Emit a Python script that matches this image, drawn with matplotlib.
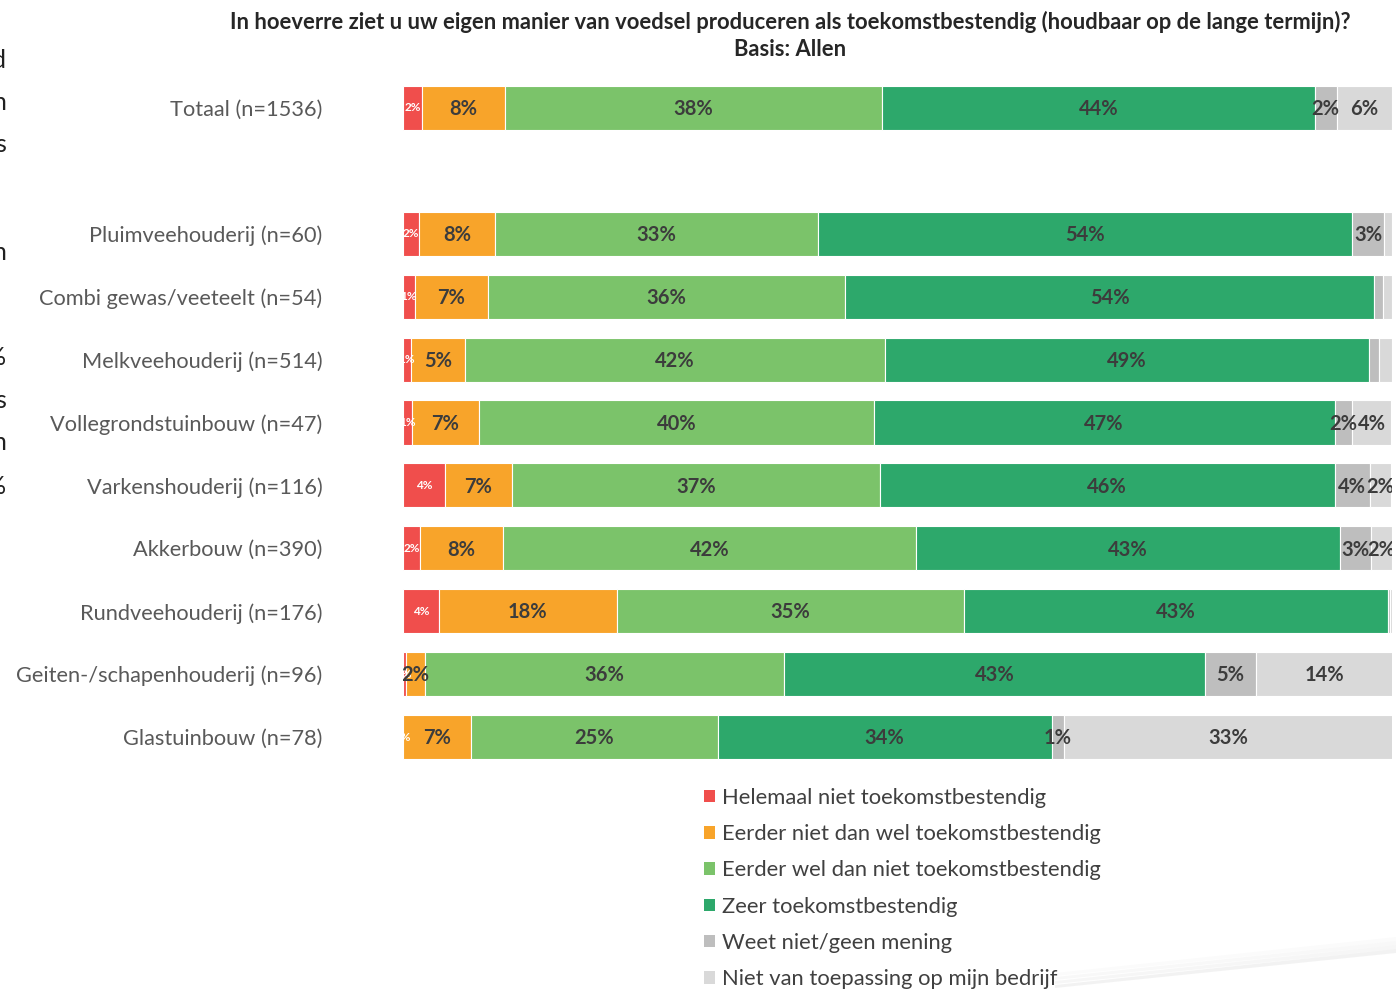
import matplotlib.pyplot as plt
from matplotlib.patches import Patch, Polygon

plt.rcParams['font.family'] = ['Lato', 'DejaVu Sans']

categories = ["Totaal (n=1536)", "Pluimveehouderij (n=60)", "Combi gewas/veeteelt (n=54)",
              "Melkveehouderij (n=514)", "Vollegrondstuinbouw (n=47)", "Varkenshouderij (n=116)",
              "Akkerbouw (n=390)", "Rundveehouderij (n=176)", "Geiten-/schapenhouderij (n=96)",
              "Glastuinbouw (n=78)"]

series = ["Helemaal niet toekomstbestendig", "Eerder niet dan wel toekomstbestendig",
          "Eerder wel dan niet toekomstbestendig", "Zeer toekomstbestendig",
          "Weet niet/geen mening", "Niet van toepassing op mijn bedrijf"]

helemaal_niet = [1.9, 1.6, 1.2, 0.8, 0.9, 4.2, 1.7, 3.6, 0.3, 0.0]
eerder_niet = [8.4, 7.7, 7.4, 5.5, 6.8, 6.8, 8.4, 18.0, 1.9, 6.9]
eerder_wel = [38.1, 32.7, 36.1, 42.4, 39.9, 37.2, 41.8, 35.1, 36.3, 24.9]
zeer = [43.8, 54.0, 53.5, 49.0, 46.6, 46.0, 42.8, 42.9, 42.6, 33.8]
weet_niet = [2.2, 3.2, 0.9, 1.0, 1.8, 3.6, 3.2, 0.2, 5.1, 1.2]
niet_van_toepassing = [5.6, 0.8, 0.9, 1.3, 3.9, 2.1, 2.1, 0.2, 13.9, 33.3]

# labels as printed in the bars ("" = not shown)
helemaal_niet_lbl = ["2%", "2%", "1%", "1%", "1%", "4%", "2%", "4%", "0%", "0%"]
eerder_niet_lbl = ["8%", "8%", "7%", "5%", "7%", "7%", "8%", "18%", "2%", "7%"]
eerder_wel_lbl = ["38%", "33%", "36%", "42%", "40%", "37%", "42%", "35%", "36%", "25%"]
zeer_lbl = ["44%", "54%", "54%", "49%", "47%", "46%", "43%", "43%", "43%", "34%"]
weet_niet_lbl = ["2%", "3%", "", "", "2%", "4%", "3%", "", "5%", "1%"]
niet_van_toepassing_lbl = ["6%", "", "", "", "4%", "2%", "2%", "", "14%", "33%"]

colors = ["#F04E4C", "#F8A42A", "#7BC36A", "#2DA86B", "#BEBEBE", "#D9D9D9"]

values = [helemaal_niet, eerder_niet, eerder_wel, zeer, weet_niet, niet_van_toepassing]
labels = [helemaal_niet_lbl, eerder_niet_lbl, eerder_wel_lbl, zeer_lbl, weet_niet_lbl,
          niet_van_toepassing_lbl]

fig = plt.figure(figsize=(13.96, 9.91), dpi=100)
W, H = 1396, 991
ax = fig.add_axes([403 / W, 1 - 768.5 / H, 989 / W, 692 / H])

# Totaal sits on top, one empty slot below it
ypos = [0] + list(range(2, 2 + len(categories) - 1))

left = [0.0] * len(categories)
handles = []
for i, (vals, lbls) in enumerate(zip(values, labels)):
    ax.barh(ypos, vals, left=left, height=0.7, color=colors[i],
            edgecolor="white", linewidth=0.8)
    handles.append(Patch(facecolor=colors[i], edgecolor="none", label=series[i]))
    for j, (v, l) in enumerate(zip(vals, lbls)):
        if l:
            if i == 0:
                ax.text(left[j] + v / 2, ypos[j], l, ha="center", va="center",
                        fontsize=8.5, color="white", fontweight="bold", clip_on=True)
            else:
                ax.text(left[j] + v / 2, ypos[j] + 0.02, l, ha="center", va="center",
                        fontsize=14.5, color="#3C3C3C", fontweight="bold", clip_on=True)
        left[j] += v

ax.set_xlim(0, 100)
ax.set_ylim(10.5, -0.5)
ax.set_yticks(ypos)
ax.set_yticklabels(categories, fontsize=15.7, color="#595959")
ax.tick_params(axis="y", length=0, pad=58)
ax.set_xticks([])
for s in ax.spines.values():
    s.set_visible(False)

fig.text(790 / W, 1 - 22 / H, "In hoeverre ziet u uw eigen manier van voedsel produceren als "
         "toekomstbestendig (houdbaar op de lange termijn)?", ha="center", va="center",
         fontsize=15.8, fontweight="bold", color="#262626")
fig.text(790 / W, 1 - 50 / H, "Basis: Allen", ha="center", va="center",
         fontsize=15.8, fontweight="bold", color="#262626")

fig.legend(handles=handles, loc="upper left", bbox_to_anchor=(693 / W, 1 - 777 / H),
           frameon=False, fontsize=15.8, labelcolor="#404040", handlelength=0.5,
           handleheight=0.5, handletextpad=0.3, labelspacing=0.74, borderpad=0)

# fragments of the neighbouring page text, cut off at the left edge
for ch, yy in [("d", 60), ("n", 103), ("s", 145), ("n", 253), ("%", 358),
               ("s", 400), ("n", 443), ("%", 487)]:
    fig.text(6 / W, 1 - yy / H, ch, ha="right", va="center", fontsize=18, color="#202020")

# faint page-curl shadow in the lower right corner
for k, a in enumerate([0.10, 0.07, 0.05, 0.03]):
    d = k * 4
    fig.patches.append(Polygon([(1055 / W, 1 - (988 - d) / H), (1396 / W, 1 - (953 - d) / H),
                                (1396 / W, 1 - (949 - d) / H), (1055 / W, 1 - (985 - d) / H)],
                               closed=True, transform=fig.transFigure, facecolor="#888888",
                               edgecolor="none", alpha=a))

fig.savefig("out.png", dpi=100)
